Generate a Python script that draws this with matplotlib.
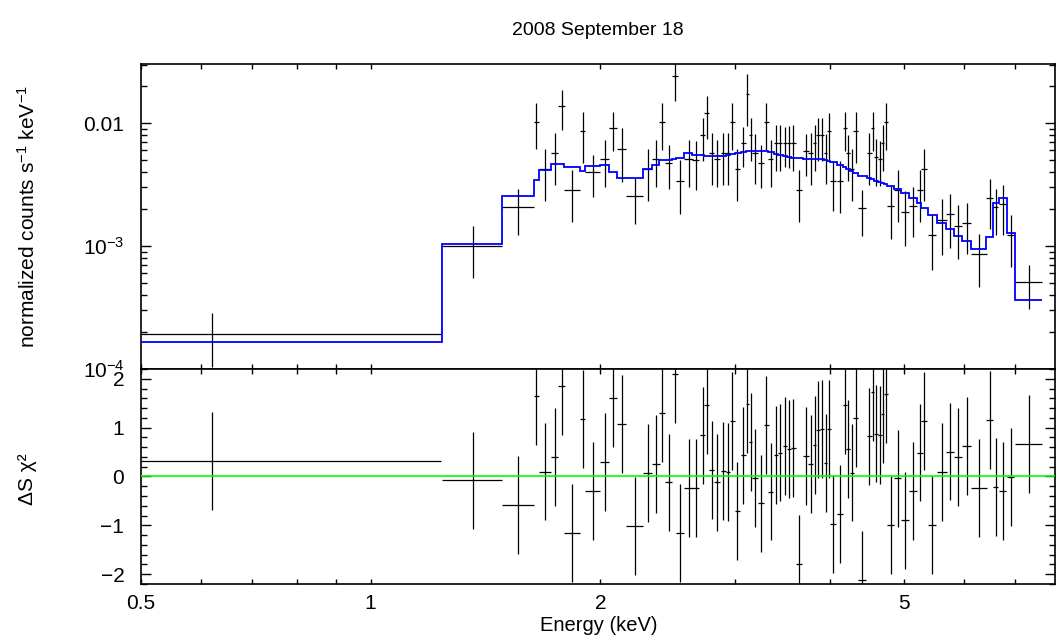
import matplotlib
matplotlib.use("Agg")
import matplotlib.pyplot as plt
import matplotlib.ticker as mticker
import numpy as np

plt.rcParams["font.family"] = ["Liberation Sans", "DejaVu Sans"]
plt.rcParams["mathtext.fontset"] = "custom"
plt.rcParams["mathtext.rm"] = "Liberation Sans"
plt.rcParams["mathtext.it"] = "Liberation Sans:italic"

# bin centres and half widths (keV)
energy = [0.62, 1.363, 1.561, 1.649, 1.692, 1.742, 1.781, 1.838, 1.896, 1.954,
          2.028, 2.080, 2.133, 2.220, 2.307, 2.366, 2.409, 2.458, 2.503, 2.546,
          2.611, 2.669, 2.724, 2.757, 2.799, 2.847, 2.899, 2.942, 2.979, 3.024,
          3.079, 3.118, 3.148, 3.190, 3.248, 3.300, 3.344, 3.398, 3.440, 3.492,
          3.537, 3.580, 3.646, 3.720, 3.773, 3.819, 3.861, 3.904, 3.948, 3.987,
          4.039, 4.122, 4.185, 4.227, 4.278, 4.322, 4.409, 4.503, 4.550, 4.595,
          4.651, 4.689, 4.732, 4.803, 4.905, 5.015, 5.141, 5.245, 5.315, 5.441,
          5.610, 5.743, 5.890, 6.041, 6.274, 6.481, 6.600, 6.735, 6.899, 7.290]
e_half = [0.615, 0.123, 0.075, 0.0135, 0.0295, 0.020, 0.019, 0.043, 0.0145, 0.044,
          0.0275, 0.025, 0.0275, 0.056, 0.0295, 0.027, 0.02, 0.025, 0.022, 0.03,
          0.035, 0.028, 0.022, 0.018, 0.022, 0.025, 0.024, 0.02, 0.02, 0.025,
          0.024, 0.017, 0.018, 0.025, 0.028, 0.024, 0.025, 0.024, 0.024, 0.024,
          0.022, 0.027, 0.035, 0.032, 0.025, 0.022, 0.021, 0.022, 0.021, 0.023,
          0.035, 0.04, 0.026, 0.023, 0.024, 0.03, 0.055, 0.035, 0.023, 0.025,
          0.023, 0.02, 0.028, 0.045, 0.055, 0.06, 0.06, 0.045, 0.05, 0.065,
          0.09, 0.07, 0.075, 0.08, 0.15, 0.07, 0.05, 0.08, 0.08, 0.305]

# normalized counts s^-1 keV^-1, in units of 1e-3
counts = [0.194, 1.0, 2.07, 10.3, 4.27, 5.70, 13.7, 2.86, 8.56, 3.99,
          5.12, 9.16, 6.2, 2.56, 4.27, 5.12, 10.3, 4.78, 24.2, 3.41,
          5.12, 5.0, 8.0, 12.0, 5.70, 5.12, 5.70, 5.70, 10.3, 4.27,
          6.91, 17.2, 7.98, 5.70, 4.78, 10.3, 5.12, 6.91, 6.91, 6.91,
          6.91, 6.91, 2.86, 5.99, 5.70, 6.91, 7.98, 7.98, 5.70, 8.56,
          3.41, 3.41, 9.16, 5.70, 4.27, 8.56, 2.04, 5.70, 9.16, 5.3,
          5.12, 6.91, 10.3, 2.12, 2.86, 1.91, 2.12, 2.86, 4.27, 1.22,
          1.62, 1.82, 1.47, 1.55, 0.856, 2.46, 2.08, 2.18, 1.23, 0.506]
counts_err = [0.09, 0.454, 0.835, 4.19, 1.95, 2.57, 4.9, 1.29, 3.84, 1.5,
              2.12, 3.2, 2.87, 1.05, 1.93, 2.12, 4.29, 1.84, 9.1, 1.57,
              2.12, 2.12, 3.07, 4.55, 2.55, 2.12, 2.55, 2.55, 4.29, 1.93,
              2.47, 7.7, 3.07, 2.5, 1.83, 4.3, 2.12, 2.79, 2.79, 2.47,
              2.6, 2.79, 1.29, 2.24, 2.55, 2.79, 3.07, 3.07, 2.5, 3.52,
              1.48, 1.55, 3.17, 2.3, 1.93, 3.84, 0.84, 2.55, 3.17, 2.2,
              2.02, 2.79, 4.3, 0.97, 1.29, 0.9, 0.93, 1.29, 1.93, 0.585,
              0.78, 0.85, 0.68, 0.68, 0.39, 1.08, 0.84, 0.95, 0.55, 0.2]
model = [0.167, 1.047, 2.56, 3.43, 4.14, 4.69, 4.69, 4.40, 4.08, 4.46,
         4.57, 3.99, 3.61, 3.61, 4.21, 4.61, 4.99, 4.99, 5.1, 5.25,
         5.67, 5.48, 5.46, 5.43, 5.40, 5.38, 5.45, 5.55, 5.65, 5.72,
         5.88, 5.95, 5.95, 5.93, 5.92, 5.91, 5.80, 5.60, 5.50, 5.36,
         5.28, 5.22, 5.16, 5.13, 5.12, 5.12, 5.11, 5.10, 5.05, 4.95,
         4.84, 4.60, 4.40, 4.27, 4.07, 3.90, 3.72, 3.60, 3.52, 3.40,
         3.30, 3.25, 3.20, 3.10, 2.90, 2.70, 2.46, 2.24, 2.05, 1.80,
         1.55, 1.38, 1.20, 1.11, 0.953, 1.18, 2.24, 2.45, 1.28, 0.366]

# sign(data-model) * delta chi
resid = [0.32, -0.08, -0.59, 1.64, 0.10, 0.40, 1.85, -1.16, 1.18, -0.29,
         0.29, 1.60, 1.07, -1.01, 0.07, 0.26, 1.30, -0.12, 2.09, -1.15,
         -0.23, -0.24, 0.84, 1.46, 0.14, -0.12, 0.11, 0.09, 1.14, -0.70,
         0.43, 1.48, 0.71, -0.03, -0.55, 1.06, -0.31, 0.44, 0.49, 0.62,
         0.57, 0.59, -1.79, 0.42, 0.26, 0.64, 0.96, 0.97, 0.28, 0.97,
         -0.97, -0.77, 1.46, 0.57, 0.08, 1.20, -2.12, 0.82, 1.73, 0.88,
         0.85, 1.28, 1.69, -0.99, -0.04, -0.90, -0.30, 0.49, 1.13, -0.99,
         0.09, 0.51, 0.40, 0.63, -0.24, 1.16, -0.21, -0.29, -0.01, 0.66]

energy = np.array(energy)
e_half = np.array(e_half)
counts = np.array(counts) * 1e-3
counts_err = np.array(counts_err) * 1e-3
model = np.array(model) * 1e-3
resid = np.array(resid)
edges = np.append(energy - e_half, energy[-1] + e_half[-1])

fig = plt.figure(figsize=(10.57, 6.43), dpi=100)
ax1 = fig.add_axes([0.1334, 0.4261, 0.8651, 0.4744])
ax2 = fig.add_axes([0.1334, 0.0918, 0.8651, 0.3343], sharex=ax1)

ax1.errorbar(energy, counts, xerr=e_half, yerr=counts_err, fmt="none",
             ecolor="black", elinewidth=0.9, capsize=0, zorder=2)
ax1.stairs(model, edges, color="#0000ff", linewidth=1.3, baseline=None, zorder=3)
ax1.set_xscale("log")
ax1.set_yscale("log")
ax1.set_xlim(0.5, 7.9)
ax1.set_ylim(1e-4, 0.0303)
ax1.yaxis.set_major_locator(mticker.FixedLocator([1e-4, 1e-3, 1e-2]))
ax1.yaxis.set_major_formatter(mticker.FixedFormatter(["$10^{-4}$", "$10^{-3}$", "0.01"]))
ax1.yaxis.set_minor_locator(mticker.LogLocator(base=10, subs=np.arange(2, 10)))
ax1.yaxis.set_minor_formatter(mticker.NullFormatter())

ax2.errorbar(energy, resid, xerr=e_half, yerr=1.0, fmt="none",
             ecolor="black", elinewidth=0.9, capsize=0, zorder=2)
ax2.axhline(0, color="#00ff00", linewidth=1.2, zorder=3)
ax2.set_ylim(-2.2, 2.2)
ax2.yaxis.set_major_locator(mticker.MultipleLocator(1))
ax2.yaxis.set_minor_locator(mticker.MultipleLocator(0.2))
ax2.yaxis.set_major_formatter(mticker.FuncFormatter(lambda v, p: f"{v:.0f}".replace("-", "\u2212")))

ax2.xaxis.set_major_locator(mticker.FixedLocator([0.5, 1, 2, 5]))
ax2.xaxis.set_major_formatter(mticker.FixedFormatter(["0.5", "1", "2", "5"]))
ax2.xaxis.set_minor_locator(mticker.FixedLocator([0.6, 0.7, 0.8, 0.9, 3, 4, 6, 7]))
ax2.xaxis.set_minor_formatter(mticker.NullFormatter())
plt.setp(ax1.get_xticklabels(), visible=False)

for ax in (ax1, ax2):
    for s in ax.spines.values():
        s.set_linewidth(1.2)
    ax.tick_params(which="both", direction="in", top=True, right=True,
                   labelsize=15, width=1.0, colors="black")
    ax.tick_params(axis="y", which="major", length=7)
    ax.tick_params(axis="y", which="minor", length=4.5)
    ax.tick_params(axis="x", which="both", length=3.6)
    ax.tick_params(axis="y", pad=12)
ax2.tick_params(axis="x", pad=7)

fig.text(0.566, 0.953, "2008 September 18", ha="center", va="center", fontsize=14)
fig.text(0.566, 0.027, "Energy (keV)", ha="center", va="center", fontsize=14.5)
fig.text(0.026, 0.663, "normalized counts s$^{-1}$ keV$^{-1}$", rotation=90,
         ha="center", va="center", fontsize=15)
fig.text(0.026, 0.255, "\u0394S \u03c7\u00b2", rotation=90,
         ha="center", va="center", fontsize=15)

fig.savefig("out.png", dpi=100)
